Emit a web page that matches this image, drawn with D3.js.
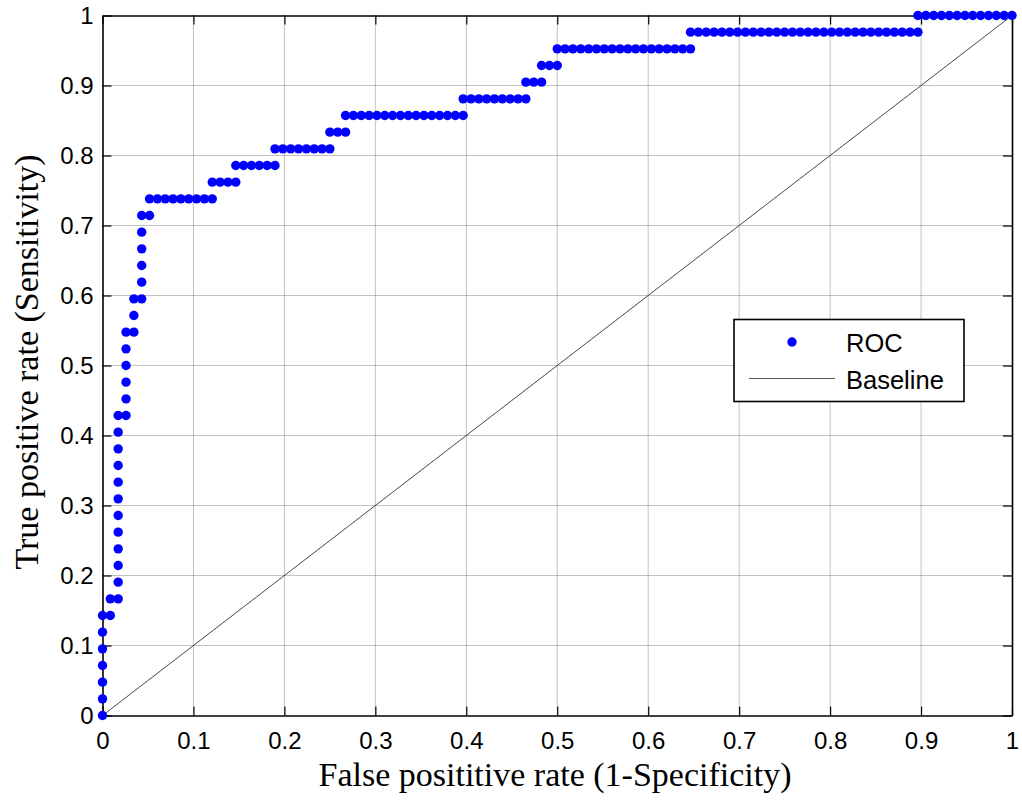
<!DOCTYPE html>
<html><head><meta charset="utf-8">
<script src="https://cdn.jsdelivr.net/npm/d3@7/dist/d3.min.js"></script>
<style>body{margin:0;background:#fff}</style>
</head><body><svg id="c" width="1022" height="800"></svg>
<script>
// ---- data ----
const totalNegatives = 116;
const totalPositives = 42;
const rocFalsePositives = [
 0,0,0,0,0,0,0,
 1,1,
 2,2,2,2,2,2,2,2,2,2,2,2,
 3,3,3,3,3,3,
 4,4,4,
 5,5,5,5,5,5,
 6,6,
 7,8,9,10,11,12,13,14,
 14,15,16,17,
 17,18,19,20,21,22,
 22,23,24,25,26,27,28,29,
 29,30,31,
 31,32,33,34,35,36,37,38,39,40,41,42,43,44,45,46,
 46,47,48,49,50,51,52,53,54,
 54,55,56,
 56,57,58,
 58,59,60,61,62,63,64,65,66,67,68,69,70,71,72,73,74,75,
 75,76,77,78,79,80,81,82,83,84,85,86,87,88,89,90,91,92,93,94,95,96,97,98,99,100,101,102,103,104,
 104,105,106,107,108,109,110,111,112,113,114,115,116
];
const rocTruePositives = [
 0,1,2,3,4,5,6,
 6,7,
 7,8,9,10,11,12,13,14,15,16,17,18,
 18,19,20,21,22,23,
 23,24,25,
 25,26,27,28,29,30,
 30,31,
 31,31,31,31,31,31,31,31,
 32,32,32,32,
 33,33,33,33,33,33,
 34,34,34,34,34,34,34,34,
 35,35,35,
 36,36,36,36,36,36,36,36,36,36,36,36,36,36,36,36,
 37,37,37,37,37,37,37,37,37,
 38,38,38,
 39,39,39,
 40,40,40,40,40,40,40,40,40,40,40,40,40,40,40,40,40,40,
 41,41,41,41,41,41,41,41,41,41,41,41,41,41,41,41,41,41,41,41,41,41,41,41,41,41,41,41,41,41,
 42,42,42,42,42,42,42,42,42,42,42,42,42
];
const baselineX = [0, 1];
const baselineY = [0, 1];
const xTicks = [0,0.1,0.2,0.3,0.4,0.5,0.6,0.7,0.8,0.9,1];
const yTicks = [0,0.1,0.2,0.3,0.4,0.5,0.6,0.7,0.8,0.9,1];
const xTickLabels = ["0","0.1","0.2","0.3","0.4","0.5","0.6","0.7","0.8","0.9","1"];
const yTickLabels = ["0","0.1","0.2","0.3","0.4","0.5","0.6","0.7","0.8","0.9","1"];
const xTitle = "False posititive rate (1-Specificity)";
const yTitle = "True positive rate (Sensitivity)";
const legendLabels = ["ROC", "Baseline"];

// ---- drawing ----
(function(){
const svg = d3.select("#c");
const L = 102.5, R = 1012, T = 15.5, B = 715.5;
const x = d3.scaleLinear().domain([0,1]).range([L,R]);
const y = d3.scaleLinear().domain([0,1]).range([B,T]);
const sans = "'Liberation Sans', Arial, Helvetica, sans-serif";
const serif = "'Liberation Serif', 'Times New Roman', serif";

svg.append("rect").attr("width",1022).attr("height",800).attr("fill","#fff");

// grid
const g = svg.append("g");
g.append("g").selectAll("line").data(xTicks.filter(d=>d>0&&d<1)).join("line")
 .attr("x1",d=>x(d)).attr("x2",d=>x(d)).attr("y1",T).attr("y2",B)
 .attr("stroke","#858585").attr("stroke-width",1).attr("stroke-dasharray","1,1");
g.append("g").selectAll("line").data(yTicks.filter(d=>d>0&&d<1)).join("line")
 .attr("y1",d=>y(d)).attr("y2",d=>y(d)).attr("x1",L).attr("x2",R)
 .attr("stroke","#858585").attr("stroke-width",1).attr("stroke-dasharray","1,1");

// axes with inward ticks
const tickLen = 9;
const ax = (gen, tx, ty) => svg.append("g").attr("transform",`translate(${tx},${ty})`).call(gen);
const axB = ax(d3.axisBottom(x).tickValues(xTicks).tickFormat((d,i)=>xTickLabels[i]).tickSizeInner(-tickLen).tickSizeOuter(0).tickPadding(16), 0, B);
const axT = ax(d3.axisTop(x).tickValues(xTicks).tickFormat("").tickSizeInner(-tickLen).tickSizeOuter(0), 0, T);
const axL = ax(d3.axisLeft(y).tickValues(yTicks).tickFormat((d,i)=>yTickLabels[i]).tickSizeInner(-tickLen).tickSizeOuter(0).tickPadding(9), L, 0);
const axR = ax(d3.axisRight(y).tickValues(yTicks).tickFormat("").tickSizeInner(-tickLen).tickSizeOuter(0), R, 0);
[axB,axT,axL,axR].forEach(a=>{
  a.selectAll("path.domain").attr("stroke","#000").attr("stroke-width",1.6);
  a.selectAll(".tick line").attr("stroke","#000").attr("stroke-width",1.2);
  a.selectAll("text").attr("font-family",sans).attr("font-size",24).attr("fill","#000");
});

// baseline
svg.append("line").attr("x1",x(baselineX[0])).attr("y1",y(baselineY[0]))
 .attr("x2",x(baselineX[1])).attr("y2",y(baselineY[1]))
 .attr("stroke","#333").attr("stroke-width",0.9);

// ROC dots
const pts = rocFalsePositives.map((f,i)=>({fpr:f/totalNegatives, tpr:rocTruePositives[i]/totalPositives}));
svg.append("g").selectAll("circle").data(pts).join("circle")
 .attr("cx",d=>x(d.fpr)).attr("cy",d=>y(d.tpr)).attr("r",4.7).attr("fill","#0000ff");

// titles
svg.append("text").attr("x",555).attr("y",786).attr("text-anchor","middle")
 .attr("font-family",serif).attr("font-size",34).text(xTitle);
svg.append("text").attr("transform","translate(38,362) rotate(-90)").attr("text-anchor","middle")
 .attr("font-family",serif).attr("font-size",34).text(yTitle);

// legend
const lg = svg.append("g");
lg.append("rect").attr("x",734).attr("y",319.5).attr("width",230).attr("height",82)
 .attr("fill","#fff").attr("stroke","#000").attr("stroke-width",1.6);
lg.append("circle").attr("cx",792).attr("cy",342).attr("r",4.7).attr("fill","#0000ff");
lg.append("line").attr("x1",749).attr("x2",835).attr("y1",378.5).attr("y2",378.5)
 .attr("stroke","#555").attr("stroke-width",1);
lg.selectAll("text").data(legendLabels).join("text")
 .attr("x",846).attr("y",(d,i)=>[352,389][i])
 .attr("font-family",sans).attr("font-size",25.5).attr("fill","#000").text(d=>d);
})();
</script>
</body></html>
